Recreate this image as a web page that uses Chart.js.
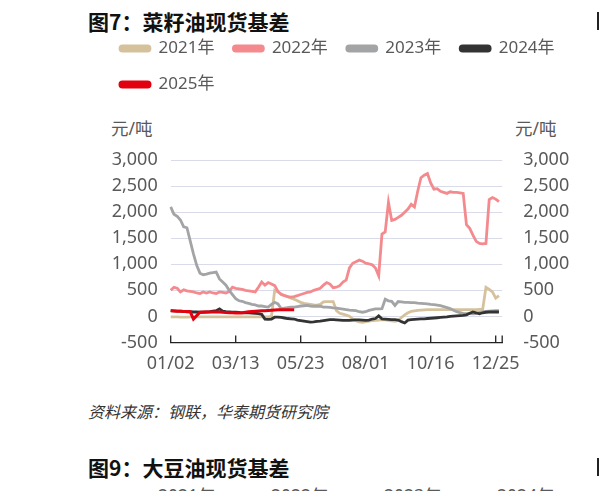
<!DOCTYPE html>
<html lang="zh">
<head>
<meta charset="UTF-8">
<title>菜籽油现货基差</title>
<script src="https://cdn.jsdelivr.net/npm/chart.js"></script>
<style>
    body { margin: 0; width: 599px; height: 491px; overflow: hidden; background: #fff;
           font-family: "Noto Sans", "Noto Sans CJK SC", sans-serif; position: relative; }
    .title { position: absolute; left: 88px; font: bold 21px "Noto Sans CJK SC", sans-serif; color: #111; white-space: nowrap; }
    .unit { position: absolute; top: 115px; font-size: 17.5px; color: #595959; }
    .source { position: absolute; left: 88px; top: 399px; font: italic 16px "Noto Sans CJK SC", sans-serif; color: #333; }
    .bar { position: absolute; left: 597px; width: 2px; height: 18px; background: #222; }
    .ghost { position: absolute; top: 482px; font-size: 17.5px; color: #595959; }
    #wrap { position: absolute; left: 101px; top: 21px; width: 498px; height: 352px; }
</style>
</head>
<body>
<div class="title" style="top:6px">图7：菜籽油现货基差</div>
<div class="bar" style="top:12px"></div>
<div class="unit" style="left:111px">元/吨</div>
<div class="unit" style="left:515px">元/吨</div>
<div id="wrap"><canvas id="basisChart"></canvas></div>
<div class="source">资料来源：钢联，华泰期货研究院</div>
<div class="title" style="top:452px">图9：大豆油现货基差</div>
<div class="bar" style="top:458px"></div>
<div class="ghost" style="left:158px">2021年</div>
<div class="ghost" style="left:271px">2022年</div>
<div class="ghost" style="left:384px">2023年</div>
<div class="ghost" style="left:497px">2024年</div>

<script>
// date categories (about two points a week)
const dates = [
    '01/02','01/05','01/09','01/12','01/16','01/19','01/23','01/26','01/30','02/02',
    '02/06','02/09','02/13','02/16','02/20','02/23','02/27','03/02','03/06','03/09',
    '03/13','03/16','03/20','03/23','03/27','03/30','04/03','04/06','04/10','04/13',
    '04/17','04/20','04/24','04/27','05/01','05/04','05/08','05/11','05/15','05/19',
    '05/23','05/26','05/30','06/02','06/06','06/09','06/13','06/16','06/20','06/23',
    '06/27','06/30','07/04','07/07','07/11','07/14','07/18','07/21','07/25','07/28',
    '08/01','08/05','08/09','08/13','08/16','08/20','08/24','08/27','08/31','09/04',
    '09/07','09/11','09/15','09/18','09/22','09/26','09/29','10/03','10/08','10/12',
    '10/16','10/19','10/23','10/26','10/30','11/02','11/06','11/09','11/13','11/16',
    '11/20','11/23','11/27','11/30','12/04','12/07','12/11','12/14','12/18','12/21',
    '12/25','12/28','12/31'
];
const tickDates = ['01/02', '03/13', '05/23', '08/01', '10/16', '12/25'];
const markDates = ['01/02', '03/13', '05/23', '08/01', '10/16', '12/25', '12/31'];

const basis2021 = [
    -10,-10,-10,-15,-15,-15,-10,-10,-10,-10, -10,-10,-10,-10,-10,-10,-10,-10,-10,-10,
    -10,-10,-10,-10,-10,-10,-10,-10,-10,-10, -10,0,500,470,430,400,380,350,330,300,
    270,250,240,230,220,215,230,280,285,285, 285,110,60,45,25,5,-50,-80,-105,-115,
    -100,-90,-80,-75,-70,-60,-65,-75,-85,-95, -80,-20,30,70,95,105,115,120,125,130,
    130,130,130,130,130,130,130,130,130,130, 130,130,130,130,130,135,140,560,520,470,
    350,400,null
];
const basis2022 = [
    500,560,540,470,510,490,480,470,450,440, 470,450,470,450,440,470,460,450,480,560,
    540,530,520,500,490,480,470,560,660,600, 650,620,590,480,420,400,380,370,380,400,
    420,440,460,470,500,520,540,600,650,620, 550,560,590,660,700,930,1020,1050,1080,1060,
    1020,1010,990,930,780,1580,1620,2190,1840,1860, 1900,1940,2000,2060,2150,2100,2400,2660,2710,2740,
    2560,2440,2450,2400,2380,2360,2390,2380,2380,2370, 2360,1760,1690,1560,1440,1400,1390,1400,2240,2280,
    2250,2200,null
];
const basis2023 = [
    2100,1960,1920,1850,1720,1700,1450,1200,980,830, 800,810,830,840,850,720,660,600,500,420,
    340,300,290,265,250,230,220,200,200,190, 180,230,270,240,150,160,170,180,180,190,
    200,205,210,200,195,200,195,180,180,175, 165,160,150,140,130,120,115,110,90,80,
    90,115,130,145,145,150,330,300,290,210, 285,280,270,270,265,265,255,250,245,240,
    230,225,215,205,190,170,150,120,90,75, 60,55,55,50,55,80,90,95,100,105,
    110,110,null
];
const basis2024 = [
    110,105,100,100,95,90,90,85,85,80, 80,85,90,100,110,145,100,90,85,80,
    80,75,70,70,70,65,60,55,40,-50, -55,-50,-15,-15,-20,-30,-40,-45,-50,-70,
    -80,-90,-100,-110,-105,-95,-90,-80,-70,-60, -60,-65,-70,-75,-75,-75,-70,-65,-65,-70,
    -75,-70,-50,-40,10,-45,-50,-55,-60,-60, -70,-100,-125,-70,-60,-55,-50,-45,-45,-40,
    -35,-30,-25,-20,-15,-10,0,5,10,15, 20,30,60,85,70,50,70,80,85,85,
    85,85,null
];
const basis2025 = [
    110,105,100,100,95,95,90,-50,15,80, 85,85,85,85,85,85,80,75,70,70,
    65,65,70,80,90,95,100,105,110,110, 115,120,125,130,130,130,130,130,130
];

const seriesNames = ['2021年', '2022年', '2023年', '2024年', '2025年'];
const seriesColors = ['#D5C29D', '#F48A8D', '#A3A4A6', '#333333', '#E3000F'];
const seriesData = [basis2021, basis2022, basis2023, basis2024, basis2025];

const axisFont = { family: '"Noto Sans", "Noto Sans CJK SC", sans-serif', size: 18 };
const legendFont = { family: '"Noto Sans", "Noto Sans CJK SC", sans-serif', size: 17 };

// leave room between legend and plot
const legendGap = {
    id: 'legendGap',
    beforeInit(chart) {
        const fit = chart.legend.fit;
        chart.legend.fit = function () {
            fit.call(this);
            this.height += 57;
        };
    }
};

// short tick marks pointing up from the axis line
const innerTicks = {
    id: 'innerTicks',
    afterDatasetsDraw(chart) {
        const x = chart.scales.x;
        const ctx = chart.ctx;
        ctx.save();
        ctx.strokeStyle = '#222';
        ctx.lineWidth = 1.3;
        markDates.forEach(d => {
            const px = x.getPixelForValue(dates.indexOf(d));
            ctx.beginPath();
            ctx.moveTo(px, x.top);
            ctx.lineTo(px, x.top - 7);
            ctx.stroke();
        });
        ctx.restore();
    }
};

new Chart(document.getElementById('basisChart'), {
    type: 'line',
    data: {
        labels: dates,
        datasets: seriesData.map((d, i) => ({
            label: seriesNames[i],
            data: d,
            borderColor: seriesColors[i],
            backgroundColor: seriesColors[i],
            borderWidth: i === 4 ? 3 : 2.8,
            pointRadius: 0,
            tension: 0,
            order: 5 - i
        }))
    },
    options: {
        responsive: true,
        maintainAspectRatio: false,
        animation: false,
        layout: { padding: 0 },
        plugins: {
            tooltip: { enabled: false },
            legend: {
                display: true,
                position: 'top',
                align: 'start',
                labels: {
                    boxWidth: 30,
                    boxHeight: 5,
                    padding: 19,
                    color: '#595959',
                    font: legendFont,
                    sort: (a, b) => a.datasetIndex - b.datasetIndex,
                    useBorderRadius: true,
                    borderRadius: 2.5
                }
            }
        },
        scales: {
            x: {
                grid: { display: false },
                border: { display: true, color: '#222', width: 1.3 },
                ticks: {
                    autoSkip: false,
                    maxRotation: 0,
                    padding: 3,
                    color: '#595959',
                    font: axisFont,
                    callback: (v, i) => tickDates.includes(dates[i]) ? dates[i] : null
                },
                afterFit: s => { s.height = 30.5; }
            },
            y: {
                min: -500,
                max: 3000,
                grid: { color: '#D9DCE8', lineWidth: 1, drawTicks: false },
                border: { display: false },
                ticks: {
                    stepSize: 500,
                    padding: 13,
                    color: '#595959',
                    font: axisFont,
                    callback: v => v.toLocaleString('en-US')
                },
                afterFit: s => { s.width = 69.7; }
            },
            y2: {
                position: 'right',
                min: -500,
                max: 3000,
                grid: { display: false },
                border: { display: false },
                ticks: {
                    stepSize: 500,
                    padding: 13,
                    color: '#595959',
                    font: axisFont,
                    callback: v => v.toLocaleString('en-US')
                },
                afterFit: s => { s.width = 96.8; }
            }
        }
    },
    plugins: [legendGap, innerTicks]
});
</script>
</body>
</html>
